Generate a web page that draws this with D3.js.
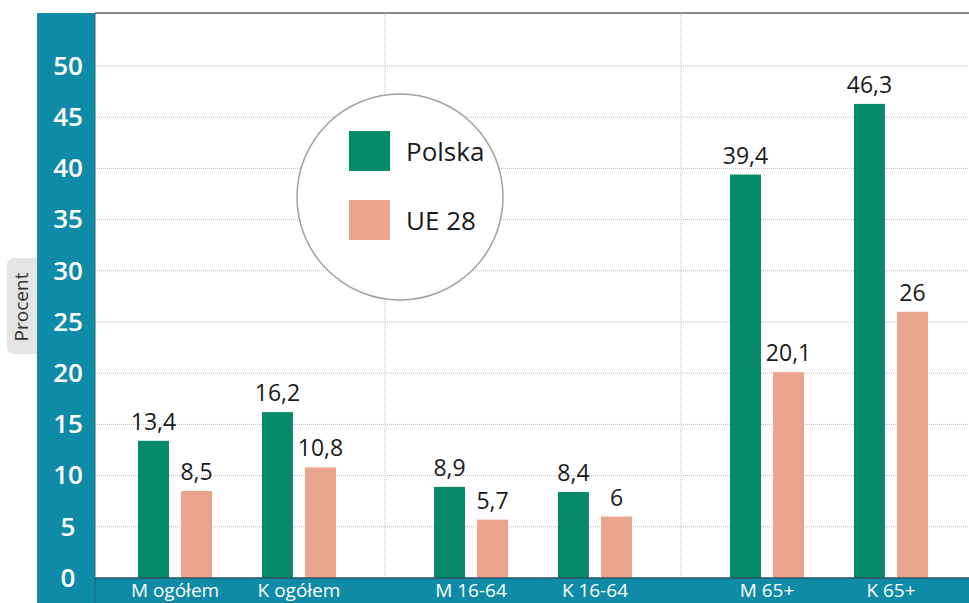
<!DOCTYPE html>
<html>
<head>
<meta charset="utf-8">
<script src="https://d3js.org/d3.v7.min.js"></script>
<style>
body { margin: 0; background: #fff; font-family: 'Open Sans', sans-serif; }
svg { display: block; }
</style>
</head>
<body>
<div id="chart"></div>
<script>
// data
var sections = ["ogółem", "16-64", "65+"];
var sexes = ["M", "K"];
var series = ["Polska", "UE 28"];
var polska = [13.4, 16.2, 8.9, 8.4, 39.4, 46.3];
var ue28 = [8.5, 10.8, 5.7, 6, 20.1, 26];
var yTicks = [0, 5, 10, 15, 20, 25, 30, 35, 40, 45, 50];
var colors = { "Polska": "#078a68", "UE 28": "#eba58e" };
var teal = "#0f8ba7";

var width = 969, height = 603;
var plotLeft = 95, plotRight = 969, plotTop = 13, plotBottom = 578;

var svg = d3.select("#chart").append("svg")
  .attr("width", width).attr("height", height);

var y = d3.scaleLinear().domain([0, 50]).range([plotBottom, 66]);
var x0 = d3.scaleBand().domain(sections).range([89, 977]);
var x1 = d3.scalePoint().domain(sexes).range([0, x0.bandwidth()]).padding(0.694);
var x2 = d3.scaleBand().domain(series).range([-37, 37]).paddingInner(0.28);

// build rows: one per category
var rows = [];
sections.forEach(function (s, i) {
  sexes.forEach(function (m, j) {
    var k = i * 2 + j;
    rows.push({ label: m + " " + s, section: s, sex: m, values: { "Polska": polska[k], "UE 28": ue28[k] } });
  });
});
function cx(d) { return x0(d.section) + x1(d.sex); }
function fmt(v) { return String(v).replace(".", ","); }

// gridlines
svg.append("g").selectAll("line")
  .data(yTicks.filter(function (t) { return t > 0; }))
  .join("line")
  .attr("x1", plotLeft).attr("x2", plotRight)
  .attr("y1", function (d) { return y(d); }).attr("y2", function (d) { return y(d); })
  .style("stroke", "#bcbcbc").style("stroke-width", 1).style("stroke-dasharray", "1,1");

// section dividers
svg.append("g").selectAll("line")
  .data(sections.slice(1))
  .join("line")
  .attr("x1", function (d) { return x0(d); }).attr("x2", function (d) { return x0(d); })
  .attr("y1", plotTop).attr("y2", plotBottom)
  .style("stroke", "#bcbcbc").style("stroke-width", 1).style("stroke-dasharray", "1,1");

// top border
svg.append("line")
  .attr("x1", plotLeft).attr("x2", plotRight).attr("y1", plotTop).attr("y2", plotTop)
  .style("stroke", "#8a8a8a").style("stroke-width", 2);

// legend bubble
var leg = svg.append("g");
leg.append("circle").attr("cx", 400).attr("cy", 197).attr("r", 103)
  .style("fill", "#fff").style("stroke", "#a0a0a0").style("stroke-width", 1.5);
series.forEach(function (s, i) {
  leg.append("rect").attr("x", 349).attr("y", 131 + i * 69).attr("width", 41).attr("height", 40)
    .style("fill", colors[s]);
  leg.append("text").attr("x", 406).attr("y", 161 + i * 69).text(s)
    .style("font-size", "26px").style("fill", "#1a1a1a");
});

// bars
var groups = svg.append("g").selectAll("g").data(rows).join("g")
  .attr("transform", function (d) { return "translate(" + cx(d) + ",0)"; });

groups.selectAll("rect")
  .data(function (d) { return series.map(function (s) { return { s: s, v: d.values[s] }; }); })
  .join("rect")
  .attr("x", function (d) { return x2(d.s); })
  .attr("width", x2.bandwidth())
  .attr("y", function (d) { return y(d.v); })
  .attr("height", function (d) { return y(0) - y(d.v); })
  .style("fill", function (d) { return colors[d.s]; });

groups.selectAll("text")
  .data(function (d) { return series.map(function (s) { return { s: s, v: d.values[s] }; }); })
  .join("text")
  .attr("x", function (d) { return x2(d.s) + x2.bandwidth() / 2; })
  .attr("y", function (d) { return y(d.v) - 11; })
  .attr("text-anchor", "middle")
  .text(function (d) { return fmt(d.v); })
  .style("font-size", "23px").style("fill", "#1a1a1a");

// bottom band with category labels
svg.append("rect").attr("x", plotLeft).attr("y", plotBottom)
  .attr("width", plotRight - plotLeft).attr("height", height - plotBottom)
  .style("fill", teal);
svg.append("line").attr("x1", plotLeft).attr("x2", plotRight)
  .attr("y1", plotBottom).attr("y2", plotBottom)
  .style("stroke", "#2a5563").style("stroke-width", 1.5);
svg.append("g").selectAll("text").data(rows).join("text")
  .attr("x", cx).attr("y", 597)
  .attr("text-anchor", "middle")
  .text(function (d) { return d.label; })
  .style("font-size", "19px").style("fill", "#fff");

// left axis column
svg.append("rect").attr("x", 37).attr("y", plotTop)
  .attr("width", plotLeft - 37).attr("height", height - plotTop)
  .style("fill", teal);
svg.append("line").attr("x1", plotLeft).attr("x2", plotLeft)
  .attr("y1", plotTop).attr("y2", height)
  .style("stroke", "#1f6d7f").style("stroke-width", 1);

var yAxis = d3.axisLeft(y).tickValues(yTicks).tickSize(0).tickPadding(0);
var ax = svg.append("g").attr("transform", "translate(68,0)").call(yAxis);
ax.select(".domain").remove();
ax.selectAll("text")
  .attr("text-anchor", "middle").attr("x", 0)
  .style("font-family", "'Open Sans', sans-serif")
  .style("font-size", "26px").style("font-weight", 600).style("fill", "#fff");

// "Procent" tab
svg.append("path")
  .attr("d", "M37,258 L15,258 Q7,258 7,266 L7,346 Q7,354 15,354 L37,354 Z")
  .style("fill", "#e4e4e4");
svg.append("text")
  .attr("transform", "translate(28,307) rotate(-90)")
  .attr("text-anchor", "middle")
  .text("Procent")
  .style("font-size", "19px").style("fill", "#333");
</script>
</body>
</html>
